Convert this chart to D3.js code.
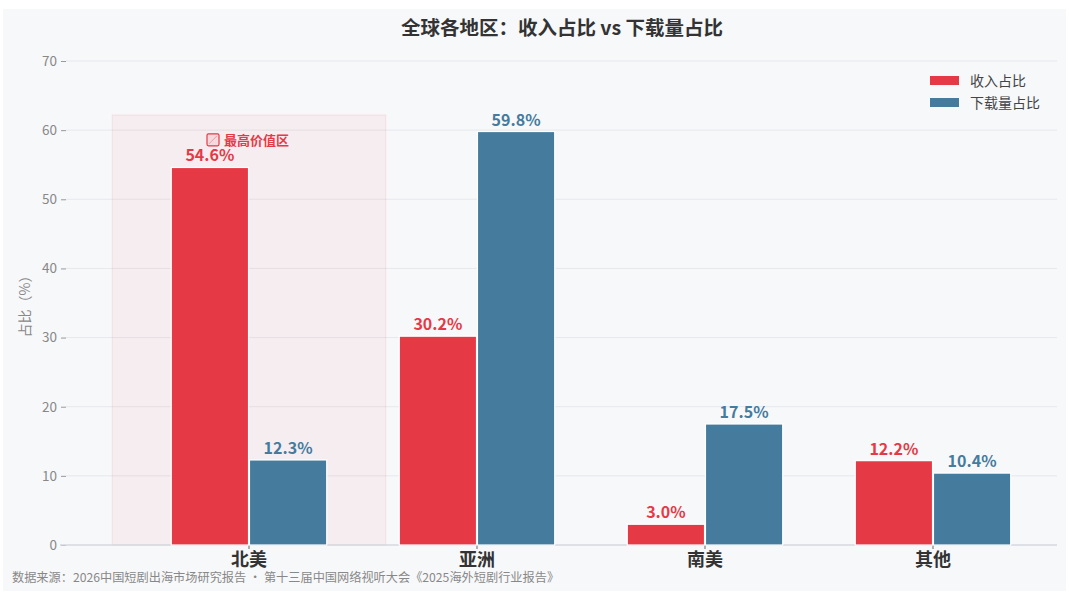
<!DOCTYPE html>
<html>
<head>
<meta charset="utf-8">
<script src="https://cdn.jsdelivr.net/npm/d3@7"></script>
<style>
  body { margin: 0; background: #fff; }
  svg { font-family: "Noto Sans CJK SC", "Noto Sans", sans-serif; }
</style>
</head>
<body>
<div id="chart"></div>
<script>
var W = 1080, H = 604;

// Data
var regions = ["北美", "亚洲", "南美", "其他"];
var seriesNames = ["收入占比", "下载量占比"];
var revenue = [54.6, 30.2, 3.0, 12.2];
var downloads = [12.3, 59.8, 17.5, 10.4];
var yTicks = [0, 10, 20, 30, 40, 50, 60, 70];
var colors = ["#e63946", "#457b9d"];

var svg = d3.select("#chart").append("svg")
  .attr("width", W)
  .attr("height", H);

// panel background
svg.append("rect")
  .attr("x", 3).attr("y", 9)
  .attr("width", 1063).attr("height", 582)
  .attr("fill", "#f7f8fa");

var x0 = d3.scaleBand().domain(regions).range([135, 1047]).paddingInner(0.31).paddingOuter(0.155);
var x1 = d3.scaleBand().domain(seriesNames).range([0, x0.bandwidth()]).padding(0.012);
var y = d3.scaleLinear().domain([0, 70]).range([545, 61]);

// grid
svg.append("g").selectAll("line")
  .data(yTicks.slice(1))
  .enter().append("line")
  .attr("x1", 66).attr("x2", 1057)
  .attr("y1", function(d){ return y(d); })
  .attr("y2", function(d){ return y(d); })
  .attr("stroke", "#e6e8ec")
  .attr("stroke-width", 1);

// highlight region for the top revenue region
var maxAll = d3.max(revenue.concat(downloads));
var best = regions[revenue.indexOf(d3.max(revenue))];
var step = x0.step();
var cx = x0(best) + x0.bandwidth() / 2;
svg.append("rect")
  .attr("x", cx - step * 0.6)
  .attr("y", y(maxAll * 1.04))
  .attr("width", step * 1.2)
  .attr("height", y(0) - y(maxAll * 1.04))
  .attr("fill", "rgba(230,57,70,0.055)")
  .attr("stroke", "rgba(230,57,70,0.1)")
  .attr("stroke-width", 1);

// y axis
var yAxis = svg.append("g")
  .attr("transform", "translate(66,0)")
  .call(d3.axisLeft(y).tickValues(yTicks).tickSize(5).tickPadding(4));
yAxis.select(".domain").remove();
yAxis.selectAll(".tick line").attr("stroke", "#999");
yAxis.selectAll(".tick text")
  .attr("fill", "#888")
  .attr("font-size", "13.5px")
  .style("font-family", "'Noto Sans CJK SC', sans-serif");

// x axis
var xAxis = svg.append("g")
  .attr("transform", "translate(0,545)")
  .call(d3.axisBottom(x0).tickSize(4).tickPadding(4));
xAxis.select(".domain")
  .attr("d", "M60,0H1057")
  .attr("stroke", "#d6d9de")
  .attr("stroke-width", 1.5);
xAxis.selectAll(".tick line").attr("stroke", "#666");
xAxis.selectAll(".tick text")
  .attr("fill", "#333")
  .attr("font-size", "18px")
  .attr("font-weight", "bold")
  .style("font-family", "'Noto Sans CJK SC', sans-serif");

// bars
var rows = regions.map(function(r, i){
  return { region: r, vals: [revenue[i], downloads[i]] };
});

var groups = svg.append("g").selectAll("g")
  .data(rows)
  .enter().append("g")
  .attr("transform", function(d){ return "translate(" + x0(d.region) + ",0)"; });

groups.selectAll("rect")
  .data(function(d){ return d.vals.map(function(v, j){ return { s: seriesNames[j], v: v, j: j }; }); })
  .enter().append("rect")
  .attr("x", function(d){ return x1(d.s); })
  .attr("y", function(d){ return y(d.v); })
  .attr("width", x1.bandwidth())
  .attr("height", function(d){ return y(0) - y(d.v); })
  .attr("fill", function(d){ return colors[d.j]; })
  .attr("stroke", "#fff")
  .attr("stroke-width", 1.2);

groups.selectAll("text")
  .data(function(d){ return d.vals.map(function(v, j){ return { s: seriesNames[j], v: v, j: j }; }); })
  .enter().append("text")
  .attr("x", function(d){ return x1(d.s) + x1.bandwidth() / 2; })
  .attr("y", function(d){ return y(d.v) - 6; })
  .attr("text-anchor", "middle")
  .attr("font-size", "16px")
  .attr("font-weight", "bold")
  .attr("fill", function(d){ return colors[d.j]; })
  .text(function(d){ return d.v.toFixed(1) + "%"; });

// annotation
var ann = svg.append("g")
  .attr("transform", "translate(" + cx + "," + y(d3.max(revenue) + 4) + ")");
ann.append("rect")
  .attr("x", -42).attr("y", -6)
  .attr("width", 12).attr("height", 12)
  .attr("rx", 1.5)
  .attr("fill", "rgba(230,57,70,0.1)")
  .attr("stroke", "#e63946")
  .attr("stroke-width", 1.2);
ann.append("line")
  .attr("x1", -40).attr("y1", 4).attr("x2", -32).attr("y2", -4)
  .attr("stroke", "rgba(230,57,70,0.4)")
  .attr("stroke-width", 1);
ann.append("text")
  .attr("x", -25).attr("y", 5)
  .attr("font-size", "13px")
  .attr("font-weight", "bold")
  .attr("fill", "#e63946")
  .text("最高价值区");

// title
svg.append("text")
  .attr("x", 562).attr("y", 35)
  .attr("text-anchor", "middle")
  .attr("font-size", "19.5px")
  .attr("font-weight", "bold")
  .attr("fill", "#333")
  .text("全球各地区：收入占比 vs 下载量占比");

// y label
svg.append("text")
  .attr("transform", "translate(30,303) rotate(-90)")
  .attr("text-anchor", "middle")
  .attr("font-size", "14px")
  .attr("fill", "#888")
  .text("占比（%）");

// legend
var legend = svg.append("g").attr("transform", "translate(930,76)");
legend.selectAll("rect")
  .data(seriesNames)
  .enter().append("rect")
  .attr("x", 0)
  .attr("y", function(d, i){ return i * 22; })
  .attr("width", 29)
  .attr("height", 9)
  .attr("fill", function(d, i){ return colors[i]; });
legend.selectAll("text")
  .data(seriesNames)
  .enter().append("text")
  .attr("x", 40)
  .attr("y", function(d, i){ return i * 22 + 10; })
  .attr("font-size", "14px")
  .attr("fill", "#444")
  .text(function(d){ return d; });

// source
svg.append("text")
  .attr("x", 12).attr("y", 582)
  .attr("font-size", "12.2px")
  .attr("fill", "#888")
  .text("数据来源：2026中国短剧出海市场研究报告 · 第十三届中国网络视听大会《2025海外短剧行业报告》");
</script>
</body>
</html>
